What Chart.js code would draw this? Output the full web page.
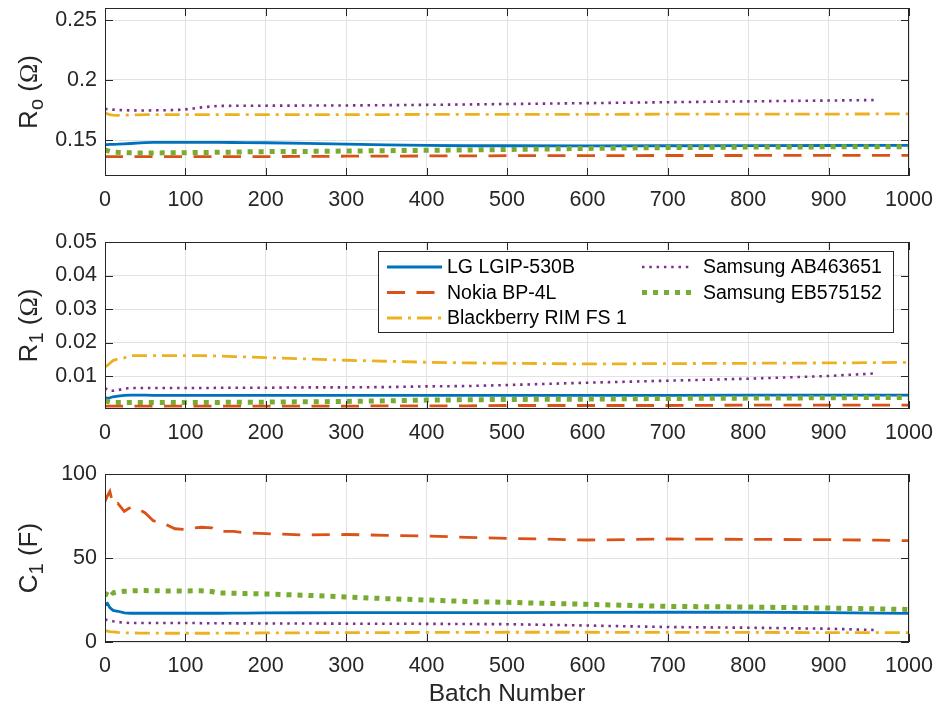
<!DOCTYPE html>
<html>
<head>
<meta charset="utf-8">
<script src="https://cdn.jsdelivr.net/npm/chart.js@4.4.0/dist/chart.umd.min.js"></script>
<style>
  html, body { margin: 0; padding: 0; background: #fff; }
  #wrap { position: relative; width: 938px; height: 711px; }
  canvas { position: absolute; left: 0; }
</style>
</head>
<body>
<div id="wrap">
  <canvas id="ro" width="938" height="220" style="top:0px"></canvas>
  <canvas id="r1" width="938" height="230" style="top:220px"></canvas>
  <canvas id="c1" width="938" height="261" style="top:450px"></canvas>
</div>
<script>
// ---- data ----
const batches = [0, 3, 6, 10, 16, 24, 32, 44, 50, 60, 72, 87, 100, 110, 120, 133, 140, 160, 175, 200, 250, 300, 350, 400, 450, 500, 600, 700, 800, 900, 960, 1000];
const seriesNames = ['LG LGIP-530B', 'Nokia BP-4L', 'Blackberry RIM FS 1', 'Samsung AB463651', 'Samsung EB575152'];

// Ro (ohm)
const roLG   = [0.1462, 0.1462, 0.1463, 0.1464, 0.1465, 0.1468, 0.1471, 0.1476, 0.1478, 0.1480, 0.1480, 0.1481, 0.1481, 0.1481, 0.1480, 0.1480, 0.1480, 0.1479, 0.1478, 0.1477, 0.1472, 0.1465, 0.1460, 0.1455, 0.1452, 0.1452, 0.1451, 0.1452, 0.1453, 0.1454, 0.1455, 0.1455];
const roNok  = [0.1361, 0.1361, 0.1361, 0.1361, 0.1361, 0.1361, 0.1361, 0.1361, 0.1361, 0.1361, 0.1361, 0.1361, 0.1361, 0.1361, 0.1361, 0.1361, 0.1361, 0.1361, 0.1361, 0.1362, 0.1363, 0.1365, 0.1366, 0.1367, 0.1368, 0.1369, 0.1370, 0.1371, 0.1371, 0.1372, 0.1372, 0.1372];
const roBB   = [0.1724, 0.1718, 0.1712, 0.1708, 0.1706, 0.1707, 0.1709, 0.1710, 0.1711, 0.1711, 0.1711, 0.1711, 0.1711, 0.1711, 0.1711, 0.1711, 0.1711, 0.1711, 0.1711, 0.1711, 0.1712, 0.1712, 0.1712, 0.1713, 0.1713, 0.1713, 0.1714, 0.1715, 0.1716, 0.1716, 0.1717, 0.1717];
const roSAB  = [0.1758, 0.1757, 0.1755, 0.1753, 0.1750, 0.1748, 0.1747, 0.1746, 0.1746, 0.1747, 0.1748, 0.1750, 0.1755, 0.1762, 0.1772, 0.1780, 0.1784, 0.1785, 0.1786, 0.1786, 0.1787, 0.1788, 0.1790, 0.1793, 0.1796, 0.1800, 0.1807, 0.1815, 0.1822, 0.1829, 0.1833, null];
const roSEB  = [0.1418, 0.1412, 0.1405, 0.1400, 0.1397, 0.1395, 0.1393, 0.1392, 0.1392, 0.1392, 0.1393, 0.1393, 0.1394, 0.1395, 0.1396, 0.1397, 0.1398, 0.1399, 0.1401, 0.1403, 0.1405, 0.1408, 0.1411, 0.1414, 0.1417, 0.1421, 0.1430, 0.1437, 0.1441, 0.1443, 0.1444, 0.1444];

// R1 (ohm)
const r1LG   = [0.0037, 0.0033, 0.0035, 0.0038, 0.0040, 0.0042, 0.0043, 0.0043, 0.0043, 0.0042, 0.0042, 0.0042, 0.0042, 0.0042, 0.0042, 0.0042, 0.0042, 0.0042, 0.0042, 0.0042, 0.0042, 0.0042, 0.0042, 0.0042, 0.0042, 0.0042, 0.0042, 0.0042, 0.0043, 0.0043, 0.0043, 0.0043];
const r1Nok  = [0.0010, 0.0010, 0.0010, 0.0010, 0.0010, 0.0010, 0.0010, 0.0010, 0.0010, 0.0010, 0.0010, 0.0010, 0.0010, 0.0010, 0.0010, 0.0010, 0.0010, 0.0010, 0.0010, 0.0010, 0.0010, 0.0010, 0.0011, 0.0011, 0.0011, 0.0012, 0.0012, 0.0012, 0.0013, 0.0013, 0.0013, 0.0013];
const r1BB   = [0.0127, 0.0132, 0.0138, 0.0146, 0.0151, 0.0154, 0.0161, 0.0161, 0.0161, 0.0161, 0.0161, 0.0161, 0.0161, 0.0161, 0.0161, 0.0160, 0.0160, 0.0158, 0.0157, 0.0155, 0.0151, 0.0147, 0.0144, 0.0141, 0.0139, 0.0138, 0.0136, 0.0137, 0.0138, 0.0139, 0.0140, 0.0141];
const r1SAB  = [0.0064, 0.0060, 0.0056, 0.0056, 0.0058, 0.0062, 0.0064, 0.0064, 0.0064, 0.0064, 0.0064, 0.0064, 0.0064, 0.0064, 0.0064, 0.0064, 0.0065, 0.0065, 0.0065, 0.0065, 0.0066, 0.0066, 0.0067, 0.0069, 0.0070, 0.0073, 0.0080, 0.0086, 0.0092, 0.0100, 0.0108, null];
const r1SEB  = [0.0026, 0.0024, 0.0022, 0.0021, 0.0021, 0.0021, 0.0021, 0.0021, 0.0021, 0.0021, 0.0021, 0.0021, 0.0021, 0.0021, 0.0021, 0.0021, 0.0021, 0.0022, 0.0022, 0.0022, 0.0023, 0.0024, 0.0026, 0.0028, 0.0029, 0.0030, 0.0031, 0.0033, 0.0034, 0.0035, 0.0036, 0.0036];

// C1 (F)
const c1LG   = [22.2, 23.0, 20.5, 18.8, 18.3, 17.3, 17.1, 17.1, 17.1, 17.1, 17.1, 17.1, 17.1, 17.1, 17.1, 17.1, 17.1, 17.2, 17.2, 17.3, 17.4, 17.5, 17.5, 17.5, 17.5, 17.5, 17.6, 17.7, 17.7, 17.5, 17.2, 17.0];
const c1Nok  = [83.7, 87.0, 89.7, 81.7, 82.5, 77.8, 80.2, 78.4, 76.8, 72.2, 70.8, 67.4, 66.9, 67.9, 68.3, 67.9, 65.9, 65.9, 64.9, 64.5, 63.7, 64.0, 63.5, 63.1, 62.3, 61.7, 60.7, 61.3, 61.1, 60.9, 60.6, 60.3];
const c1BB   = [6.8, 6.5, 6.2, 6.0, 5.7, 5.5, 5.4, 5.3, 5.3, 5.3, 5.2, 5.2, 5.2, 5.2, 5.2, 5.2, 5.3, 5.3, 5.3, 5.4, 5.5, 5.6, 5.6, 5.7, 5.7, 5.8, 5.8, 5.7, 5.7, 5.6, 5.6, 5.6];
const c1SAB  = [13.3, 13.1, 12.8, 12.4, 11.9, 11.5, 11.3, 11.3, 11.3, 11.3, 11.3, 11.3, 11.3, 11.3, 11.2, 11.2, 11.2, 11.1, 11.1, 11.0, 11.0, 10.9, 10.9, 10.8, 10.7, 10.6, 9.8, 8.9, 8.5, 7.9, 7.1, null];
const c1SEB  = [27.2, 30.5, 31.1, 29.2, 29.8, 30.2, 30.4, 30.6, 30.6, 30.5, 30.4, 30.4, 30.4, 30.5, 30.5, 30.0, 29.2, 29.0, 28.8, 28.6, 27.8, 26.8, 25.8, 25.0, 24.1, 23.6, 22.4, 21.2, 20.8, 20.2, 19.7, 19.4];

const xTicks  = [0, 100, 200, 300, 400, 500, 600, 700, 800, 900, 1000];
const roTicks = [0.15, 0.2, 0.25];
const r1Ticks = [0.01, 0.02, 0.03, 0.04, 0.05];
const c1Ticks = [0, 50, 100];

// ---- styling ----
const FONT = "'Liberation Sans', Arial, Helvetica, sans-serif";
const TXT = '#262626';
const GRID = '#e2e2e2';
const styles = [
  { color: '#0072BD', width: 2.8, dash: [] },
  { color: '#D95319', width: 2.8, dash: [18, 11.5] },
  { color: '#EDB120', width: 2.8, dash: [15, 6, 3, 6] },
  { color: '#7E2F8E', width: 2.6, dash: [2.5, 4.8] },
  { color: '#77AC30', width: 5, dash: [5, 6] },
];

Chart.defaults.font.family = FONT;

function makeDatasets(series) {
  return series.map((vals, i) => ({
    label: seriesNames[i],
    data: batches.map((b, j) => ({ x: b, y: vals[j] })).filter(p => p.y !== null),
    borderColor: styles[i].color,
    borderWidth: styles[i].width,
    borderDash: styles[i].dash,
    borderCapStyle: 'butt',
    pointRadius: 0,
    tension: 0,
    fill: false,
    order: 5 - i,
  }));
}

function drawYTitle(ctx, x, y, main, sub, unit) {
  const big = '26px ' + FONT, small = '20px ' + FONT, sym = '26px "Liberation Serif", "DejaVu Serif", serif';
  const parts = [
    { t: main, f: big, dy: 0 },
    { t: sub, f: small, dy: 6 },
    { t: ' (', f: big, dy: 0 },
    { t: unit, f: unit === 'Ω' ? sym : big, dy: 0 },
    { t: ')', f: big, dy: 0 },
  ];
  let total = 0;
  parts.forEach(p => { ctx.font = p.f; p.w = ctx.measureText(p.t).width; total += p.w; });
  ctx.save();
  ctx.translate(x, y);
  ctx.rotate(-Math.PI / 2);
  ctx.fillStyle = TXT;
  ctx.textBaseline = 'alphabetic';
  ctx.textAlign = 'left';
  let cx = -total / 2;
  parts.forEach(p => { ctx.font = p.f; ctx.fillText(p.t, cx, p.dy); cx += p.w; });
  ctx.restore();
}

function makeFrame(p) {
  return {
    id: 'frame',
    afterDraw(chart) {
      const { ctx, chartArea: a, scales } = chart;
      ctx.save();
      ctx.strokeStyle = TXT;
      ctx.lineWidth = 1;
      ctx.beginPath();
      xTicks.forEach(v => {
        const x = Math.round(scales.x.getPixelForValue(v)) + 0.5;
        ctx.moveTo(x, a.bottom); ctx.lineTo(x, a.bottom - 8);
        ctx.moveTo(x, a.top); ctx.lineTo(x, a.top + 8);
      });
      p.yTicks.forEach(v => {
        const y = Math.round(scales.y.getPixelForValue(v)) + 0.5;
        ctx.moveTo(a.left, y); ctx.lineTo(a.left + 8, y);
        ctx.moveTo(a.right, y); ctx.lineTo(a.right - 8, y);
      });
      ctx.stroke();
      ctx.strokeRect(a.left + 0.5, a.top + 0.5, a.right - a.left - 1, a.bottom - a.top - 1);
      ctx.restore();

      drawYTitle(ctx, 37, (a.top + a.bottom) / 2, p.title[0], p.title[1], p.title[2]);

      if (p.xTitle) {
        ctx.save();
        ctx.fillStyle = TXT;
        ctx.font = '24.5px ' + FONT;
        ctx.textAlign = 'center';
        ctx.textBaseline = 'alphabetic';
        ctx.fillText(p.xTitle, (a.left + a.right) / 2, chart.height - 10);
        ctx.restore();
      }

      if (p.legend) {
        const L = p.legend;
        ctx.save();
        ctx.fillStyle = '#fff';
        ctx.fillRect(L.x, L.y, L.w, L.h);
        ctx.strokeStyle = TXT;
        ctx.lineWidth = 1;
        ctx.strokeRect(L.x + 0.5, L.y + 0.5, L.w, L.h);
        ctx.font = '19.5px ' + FONT;
        ctx.textBaseline = 'middle';
        ctx.textAlign = 'left';
        chart.data.datasets.forEach((ds, i) => {
          const col = i < 3 ? 0 : 1;
          const row = i < 3 ? i : i - 3;
          const yy = L.y + 16 + row * 25.5;
          const x0 = col === 0 ? L.x + 9 : L.x + 264;
          const len = col === 0 ? 55 : 50;
          ctx.strokeStyle = ds.borderColor;
          ctx.lineWidth = ds.borderWidth;
          ctx.setLineDash(ds.borderDash);
          ctx.lineCap = 'butt';
          ctx.beginPath();
          ctx.moveTo(x0, yy); ctx.lineTo(x0 + len, yy);
          ctx.stroke();
          ctx.setLineDash([]);
          ctx.fillStyle = '#000';
          ctx.fillText(ds.label, x0 + len + 5 + (col === 1 ? 6 : 0), yy + 1);
        });
        ctx.restore();
      }
    }
  };
}

function makePanel(id, series, p) {
  const fmt = v => String(+Number(v).toFixed(4));
  return new Chart(document.getElementById(id), {
    type: 'line',
    data: { datasets: makeDatasets(series) },
    options: {
      responsive: false,
      animation: false,
      devicePixelRatio: 1,
      layout: { padding: { top: p.top, right: 29, left: 0, bottom: 0 } },
      plugins: { legend: { display: false }, tooltip: { enabled: false } },
      scales: {
        x: {
          type: 'linear', min: 0, max: 1000,
          afterBuildTicks: s => { s.ticks = xTicks.map(v => ({ value: v })); },
          afterFit: s => { s.height = p.xh; s.paddingLeft = 0; s.paddingRight = 0; },
          grid: { color: GRID, drawTicks: false },
          border: { display: false },
          ticks: { color: TXT, font: { size: 21.5 }, padding: 11, maxRotation: 0, autoSkip: false, callback: fmt },
        },
        y: {
          type: 'linear', min: p.min, max: p.max,
          afterBuildTicks: s => { s.ticks = p.yTicks.map(v => ({ value: v })); },
          afterFit: s => { s.width = 105; s.paddingTop = 0; s.paddingBottom = 0; },
          grid: { color: GRID, drawTicks: false },
          border: { display: false },
          ticks: { color: TXT, font: { size: 21.5 }, padding: 8, autoSkip: false, callback: fmt },
        },
      },
    },
    plugins: [makeFrame(p)],
  });
}

makePanel('ro', [roLG, roNok, roBB, roSAB, roSEB], {
  top: 8, xh: 44, min: 0.12, max: 0.26, yTicks: roTicks, title: ['R', 'o', 'Ω'],
});
makePanel('r1', [r1LG, r1Nok, r1BB, r1SAB, r1SEB], {
  top: 22, xh: 41, min: 0.00015, max: 0.05, yTicks: r1Ticks, title: ['R', '1', 'Ω'],
  legend: { x: 378, y: 31, w: 515, h: 81 },
});
makePanel('c1', [c1LG, c1Nok, c1BB, c1SAB, c1SEB], {
  top: 24, xh: 69, min: 0, max: 100, yTicks: c1Ticks, title: ['C', '1', 'F'], xTitle: 'Batch Number',
});
</script>
</body>
</html>
